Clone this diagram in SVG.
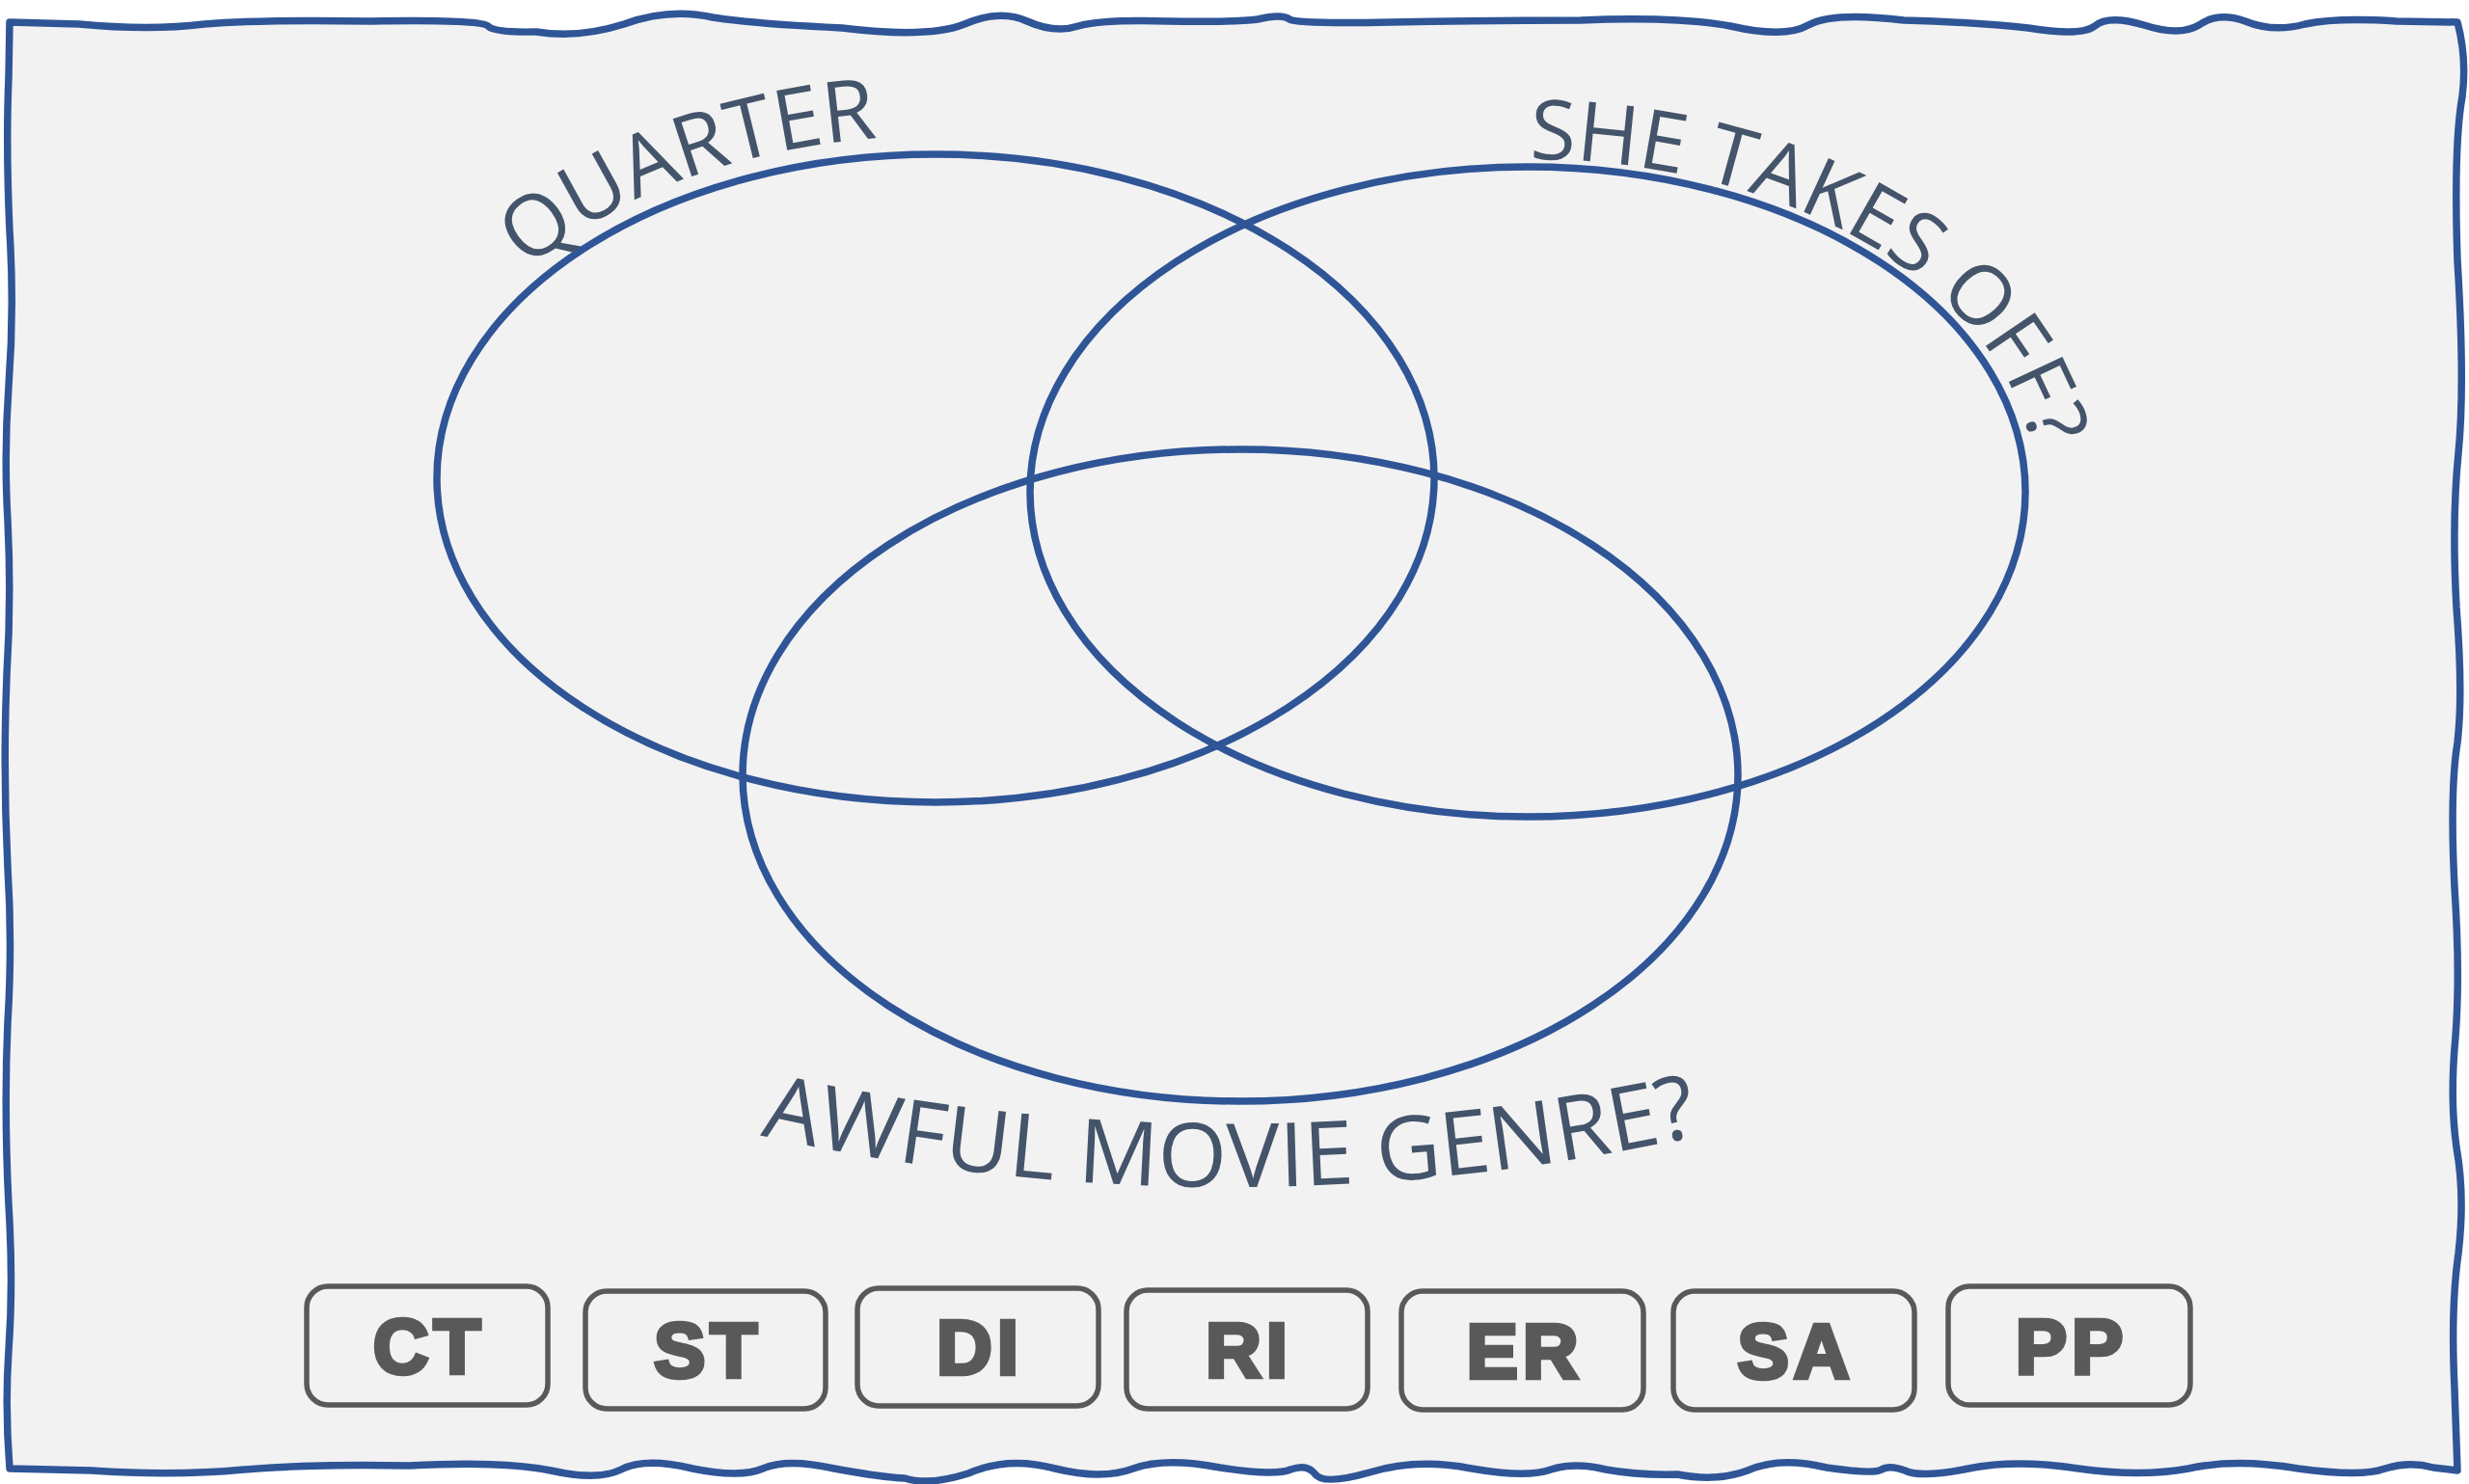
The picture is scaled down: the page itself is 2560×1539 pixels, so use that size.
<svg xmlns="http://www.w3.org/2000/svg" xmlns:xlink="http://www.w3.org/1999/xlink" width="2560" height="1539" viewBox="0 0 2560 1539">
<style>
.frame{fill:#f2f2f2;stroke:#2f5597;stroke-width:7.5;stroke-linejoin:round}
.set{fill:none;stroke:#2f5597;stroke-width:7.5}
.arc{font-family:"Open Sans","Noto Sans","DejaVu Sans",sans-serif;fill:#44546a;text-anchor:middle}
.tile{fill:#f2f2f2;stroke:#595959;stroke-width:5.5}
.code{font-family:"Liberation Sans",Arial,sans-serif;font-weight:bold;font-size:80px;fill:#595959;stroke:#595959;stroke-width:4.5;stroke-linejoin:miter;text-anchor:middle;letter-spacing:5px}
</style>
<defs>
<path id="pQ" d="M 436 496 A 534 355 0 0 1 1504 496"/>
<path id="pS" d="M 1056 510 A 528 345 0 0 1 2112 510 A 528 345 0 0 1 1584 855"/>
<path id="pA" d="M 590 1123.4 A 2234 2234 0 0 0 1960 1123.4"/>
</defs>
<rect width="2560" height="1539" fill="#ffffff"/>
<g id="border">
<path class="frame" d="M 10 23 L 82 25 Q 155 32 212 25 Q 270 20 385 22 Q 500 20 506 27 Q 512 34 556 33 Q 600 40 647 25 Q 694 8 739 18 Q 784 25 873 29 Q 963 40 1000 25 Q 1037 9 1065 22 Q 1094 35 1118 27 Q 1143 20 1211 22 Q 1280 23 1304 20 Q 1329 14 1337 20 Q 1345 25 1443 23 Q 1541 21 1639 21 Q 1737 17 1794 27 Q 1851 40 1875 26 Q 1900 12 1974 21 Q 2048 23 2103 29 Q 2158 38 2172 27 Q 2186 15 2223 26 Q 2260 38 2280 26 Q 2300 12 2328 22 Q 2357 34 2390 25 Q 2423 18 2485 22 L 2548 23 Q 2558 60 2553 100 Q 2544 150 2548 270 Q 2556 400 2549 470 Q 2542 540 2547 630 Q 2554 720 2548 770 Q 2540 820 2545 920 Q 2551 1010 2546 1075 Q 2540 1140 2547 1190 Q 2556 1240 2549 1300 Q 2541 1355 2545 1440 L 2548 1525 L 2523 1522 Q 2498 1515 2473 1523 Q 2449 1532 2383 1523 Q 2318 1512 2269 1523 Q 2220 1532 2155 1523 Q 2090 1513 2041 1523 Q 1992 1533 1975 1525 Q 1959 1519 1951 1524 Q 1943 1529 1894 1522 Q 1845 1510 1812 1525 Q 1780 1537 1739 1529 Q 1698 1530 1665 1524 Q 1633 1516 1608 1524 Q 1584 1533 1526 1523 Q 1469 1512 1420 1527 Q 1371 1541 1363 1528 Q 1355 1518 1338 1524 Q 1322 1531 1265 1522 Q 1208 1511 1175 1523 Q 1143 1535 1094 1523 Q 1045 1510 1004 1528 Q 963 1541 938 1533 Q 914 1532 865 1523 Q 816 1512 791 1523 Q 767 1533 718 1523 Q 669 1511 644 1524 Q 620 1536 571 1525 Q 522 1515 424 1520 Q 327 1518 253 1524 Q 180 1531 95 1525 L 10 1523 Q 5 1460 9 1400 Q 14 1330 9 1250 Q 4 1150 8 1060 Q 13 980 8 900 Q 3 800 7 700 Q 12 620 8 540 Q 4 470 9 400 Q 15 320 10 240 Q 6 150 9 80 Z"/>
</g>
<g id="set-quarter">
<ellipse class="set" cx="970" cy="496" rx="517" ry="336"/>
<text class="arc" font-size="88"><textPath xlink:href="#pQ" href="#pQ" startOffset="448">QUARTER</textPath></text>
</g>
<g id="set-she-takes-off">
<ellipse class="set" cx="1584" cy="510" rx="516" ry="337"/>
<text class="arc" font-size="86"><textPath xlink:href="#pS" href="#pS" startOffset="1018">SHE TAKES OFF?</textPath></text>
</g>
<g id="set-awful-movie-genre">
<ellipse class="set" cx="1286" cy="804" rx="516" ry="338"/>
<text class="arc" font-size="92" letter-spacing="0.5"><textPath xlink:href="#pA" href="#pA" startOffset="697">AWFUL MOVIE GENRE?</textPath></text>
</g>
<g id="connectors"/>
<g id="tile-ct"><rect class="tile" x="318" y="1334" width="250" height="123" rx="22"/><text class="code" x="445" y="1424">CT</text></g>
<g id="tile-st"><rect class="tile" x="607" y="1339" width="249" height="122" rx="22"/><text class="code" x="734" y="1428">ST</text></g>
<g id="tile-di"><rect class="tile" x="889" y="1336" width="250" height="122" rx="22"/><text class="code" x="1016" y="1425">DI</text></g>
<g id="tile-ri"><rect class="tile" x="1168" y="1338" width="250" height="123" rx="22"/><text class="code" x="1295" y="1428">RI</text></g>
<g id="tile-er"><rect class="tile" x="1453" y="1339" width="251" height="123" rx="22"/><text class="code" x="1581" y="1429">ER</text></g>
<g id="tile-sa"><rect class="tile" x="1735" y="1339" width="250" height="123" rx="22"/><text class="code" x="1862" y="1429">SA</text></g>
<g id="tile-pp"><rect class="tile" x="2020" y="1334" width="251" height="123" rx="22"/><text class="code" x="2148" y="1424">PP</text></g>
</svg>
